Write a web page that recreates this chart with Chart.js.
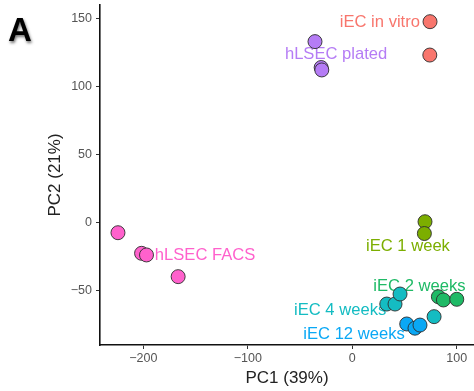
<!DOCTYPE html>
<html>
<head>
<meta charset="utf-8">
<script src="https://cdn.jsdelivr.net/npm/chart.js@4.4.1/dist/chart.umd.min.js"></script>
<style>
html,body{margin:0;padding:0;background:#fff;overflow:hidden;}
#wrap{position:relative;width:474px;height:391px;}
</style>
</head>
<body>
<div id="wrap"><canvas id="c" width="474" height="391"></canvas></div>
<script>
// ---- data ----
const groups = ["iEC in vitro","hLSEC plated","hLSEC FACS","iEC 1 week","iEC 2 weeks","iEC 4 weeks","iEC 12 weeks"];
const pc1_iECinVitro = [74.4, 74.2];
const pc2_iECinVitro = [148, 123.4];
const pc1_hLSECplated = [-35.7, -29.8, -29.2];
const pc2_hLSECplated = [133.3, 114.2, 112.4];
const pc1_hLSECFACS = [-224.3, -201.7, -197, -166.7];
const pc2_hLSECFACS = [-7.6, -22.8, -24, -40];
const pc1_iEC1week = [69.6, 69.0];
const pc2_iEC1week = [0.5, -8.2];
const pc1_iEC2weeks = [82.4, 87.2, 100];
const pc2_iEC2weeks = [-54.8, -57.2, -56.7];
const pc1_iEC4weeks = [33, 40.9, 45.7, 78.3];
const pc2_iEC4weeks = [-60.2, -60.2, -52.8, -69.5];
const pc1_iEC12weeks = [52.1, 60, 64.8];
const pc2_iEC12weeks = [-74.9, -78, -75.7];
const xTickValues = [-200, -100, 0, 100];
const yTickValues = [-50, 0, 50, 100, 150];
const xTitle = "PC1 (39%)";
const yTitle = "PC2 (21%)";
const panelLetter = "A";

// ---- styling ----
const colors = ["#F8766D","#B57CF5","#FF61CC","#7CAE00","#1FBA66","#14BCC2","#0AA8F5"];
const labelPlace = [ // anchor in data units, align
  {x: 64.8, y: 147.8, align: "right"},
  {x: -64.5, y: 123.5, align: "left"},
  {x: -189, y: -24, align: "left"},
  {x: 13.1, y: -17.9, align: "left"},
  {x: 20.1, y: -46.9, align: "left"},
  {x: -55.8, y: -64.6, align: "left"},
  {x: -46.9, y: -82.3, align: "left"}
];
const xs = [pc1_iECinVitro, pc1_hLSECplated, pc1_hLSECFACS, pc1_iEC1week, pc1_iEC2weeks, pc1_iEC4weeks, pc1_iEC12weeks];
const ys = [pc2_iECinVitro, pc2_hLSECplated, pc2_hLSECFACS, pc2_iEC1week, pc2_iEC2weeks, pc2_iEC4weeks, pc2_iEC12weeks];

const datasets = groups.map((g, i) => ({
  label: g,
  data: xs[i].map((v, k) => ({x: v, y: ys[i][k]})),
  backgroundColor: colors[i],
  borderColor: "rgba(45,45,45,0.9)",
  borderWidth: 1,
  pointRadius: 7,
  pointHoverRadius: 7
}));

const FONT = "'Liberation Sans', Arial, sans-serif";

const labelsPlugin = {
  id: "groupLabels",
  beforeDatasetsDraw(chart) {
    const {ctx, scales: {x, y}} = chart;
    ctx.save();
    ctx.font = "16.6px " + FONT;
    ctx.textBaseline = "middle";
    groups.forEach((g, i) => {
      const p = labelPlace[i];
      ctx.fillStyle = colors[i];
      ctx.textAlign = p.align;
      ctx.fillText(g, x.getPixelForValue(p.x), y.getPixelForValue(p.y));
    });
    ctx.restore();
  },
  afterDraw(chart) {
    const {ctx} = chart;
    ctx.save();
    ctx.font = "bold 33px " + FONT;
    ctx.textBaseline = "alphabetic";
    ctx.textAlign = "left";
    ctx.shadowColor = "rgba(0,0,0,0.55)";
    ctx.shadowBlur = 3;
    ctx.shadowOffsetX = 1;
    ctx.shadowOffsetY = 2;
    ctx.fillStyle = "#000";
    ctx.fillText(panelLetter, 8, 41);
    ctx.restore();
  }
};

new Chart(document.getElementById("c"), {
  type: "scatter",
  data: {datasets},
  options: {
    responsive: false,
    animation: false,
    devicePixelRatio: 1,
    layout: {autoPadding: false, padding: {top: 5, right: 0, bottom: 0, left: 0}},
    plugins: {legend: {display: false}, tooltip: {enabled: false}},
    scales: {
      x: {
        type: "linear",
        min: -241.5,
        max: 116.5,
        afterBuildTicks: s => { s.ticks = xTickValues.map(v => ({value: v})); },
        afterFit: s => { s.height = 46; s.paddingLeft = 0; s.paddingRight = 0; },
        ticks: {color: "#555", font: {family: FONT, size: 12.5}, padding: 2,
                callback: v => String(v).replace("-", "\u2212")},
        grid: {display: true, drawOnChartArea: false, drawTicks: true, tickLength: 4, color: "#333", lineWidth: 1},
        border: {display: true, color: "#111", width: 1.6},
        title: {display: true, text: xTitle, color: "#222", font: {family: FONT, size: 17}, padding: {top: 0, bottom: 2.5}}
      },
      y: {
        type: "linear",
        min: -90.4,
        max: 160.3,
        afterBuildTicks: s => { s.ticks = yTickValues.map(v => ({value: v})); },
        afterFit: s => { s.width = 100; s.paddingTop = 0; s.paddingBottom = 0; },
        ticks: {color: "#555", font: {family: FONT, size: 12.5}, padding: 4,
                callback: v => String(v).replace("-", "\u2212")},
        grid: {display: true, drawOnChartArea: false, drawTicks: true, tickLength: 4, color: "#333", lineWidth: 1},
        border: {display: true, color: "#111", width: 1.6},
        title: {display: true, text: yTitle, color: "#222", font: {family: FONT, size: 17}, padding: {top: 44.8, bottom: 0}}
      }
    }
  },
  plugins: [labelsPlugin]
});
</script>
</body>
</html>
